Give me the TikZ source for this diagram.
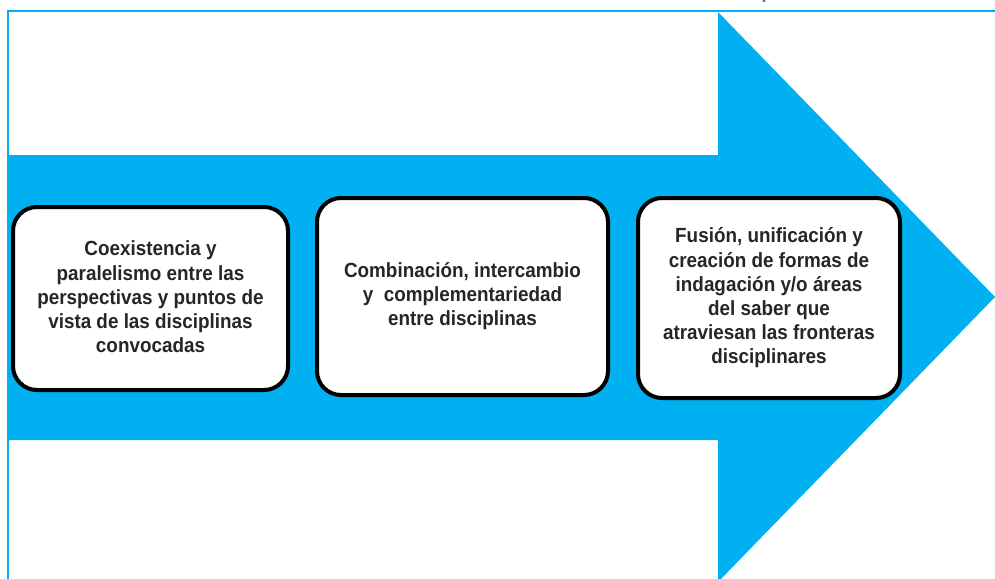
\documentclass[tikz,border=0pt]{standalone}
\usepackage{fontspec}
\setmainfont[FakeStretch=0.92]{Liberation Sans}
\newfontfamily\serifp{Liberation Serif}
\definecolor{arrowblue}{HTML}{00B0F0}
\begin{document}
\begin{tikzpicture}[x=1pt,y=-1pt,
  stagebox/.style={draw=black, line width=4pt, fill=white, rounded corners=24pt},
  stagetext/.style={align=center, font=\fontsize{20.5}{24.2}\selectfont\bfseries, text=black!85, inner sep=0pt}]
\useasboundingbox (0,0) rectangle (995,578);
\begin{scope}
\clip (0,0) rectangle (995,578);
% frame
\draw[draw=arrowblue, line width=2pt] (7.5,600) -- (7.5,11.5) -- (1000,11.5);
% arrow
\fill[arrowblue] (7,155) -- (718,155) -- (718,12) -- (995,297) -- (718,582) -- (718,440) -- (7,440) -- cycle;
% cut-off text at top
\node[font=\serifp\fontsize{16}{18}\selectfont, anchor=base, inner sep=0pt] (ptext) at (766,-1) {p};
\end{scope}
% boxes
\draw[stagebox] (13,207) rectangle (288,390);
\draw[stagebox] (317,198) rectangle (608,395);
\draw[stagebox] (638,198) rectangle (900,398);
\node[stagetext] (t1) at (150.5,297) {Coexistencia y\\paralelismo entre las\\perspectivas y puntos de\\vista de las disciplinas\\convocadas};
\node[stagetext] (t2) at (462.5,296) {Combinación, intercambio\\y\ \ complementariedad\\entre disciplinas};
\node[stagetext] (t3) at (769,298) {Fusión, unificación y\\creación de formas de\\indagación y/o áreas\\del saber que\\atraviesan las fronteras\\disciplinares};
\end{tikzpicture}
\end{document}
